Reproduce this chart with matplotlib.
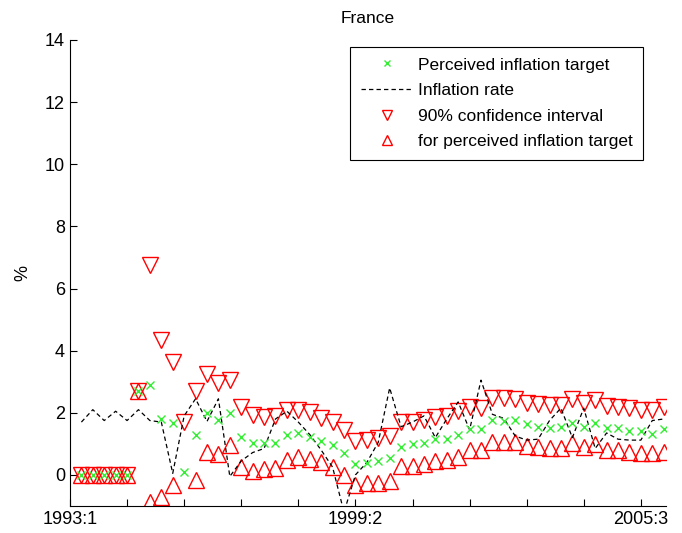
import numpy as np
import matplotlib
matplotlib.use("Agg")
import matplotlib.pyplot as plt

plt.rcParams['font.family'] = ['Liberation Sans', 'DejaVu Sans']

# quarterly index, 0 = 1993:1 ; data start in 1993:2
quarter = np.arange(1, 53)

target = [0, 0, 0, 0, 0, 2.7, 2.9, 1.8, 1.67, 0.08,
          1.3, 2.0, 1.77, 2.0, 1.22, 1.03, 1.03, 1.03, 1.29, 1.35,
          1.22, 1.1, 0.96, 0.7, 0.35, 0.39, 0.46, 0.55, 0.9, 1.0,
          1.03, 1.16, 1.16, 1.29, 1.48, 1.48, 1.77, 1.74, 1.77, 1.64,
          1.54, 1.51, 1.54, 1.67, 1.54, 1.67, 1.51, 1.51, 1.41, 1.41,
          1.32, 1.48]

upper = [0, 0, 0, 0, 0, 2.7, 6.75, 4.35, 3.62, 1.7,
         2.7, 3.26, 2.96, 3.07, 2.2, 1.93, 1.87, 1.9, 2.09, 2.09,
         2.03, 1.83, 1.7, 1.45, 1.1, 1.13, 1.2, 1.25, 1.7, 1.7,
         1.77, 1.87, 1.9, 2.05, 2.19, 2.15, 2.48, 2.48, 2.44, 2.32,
         2.28, 2.25, 2.25, 2.44, 2.32, 2.41, 2.22, 2.19, 2.15, 2.09,
         2.09, 2.19]

lower = [0, 0, 0, 0, 0, 2.7, -0.87, -0.71, -0.32, -1.6,
         -0.16, 0.74, 0.66, 0.96, 0.26, 0.11, 0.19, 0.22, 0.48, 0.58,
         0.51, 0.42, 0.26, 0.0, -0.32, -0.27, -0.26, -0.19, 0.29, 0.29,
         0.35, 0.45, 0.47, 0.58, 0.8, 0.8, 1.06, 1.06, 1.06, 0.93,
         0.9, 0.87, 0.87, 1.03, 0.9, 1.0, 0.8, 0.8, 0.74, 0.71,
         0.71, 0.74]

inflation = [1.7, 2.1, 1.75, 2.05, 1.75, 2.1, 1.75, 1.7, 0.05, 1.9,
             2.45, 1.72, 2.45, -0.05, 0.45, 0.72, 0.85, 1.8, 2.05, 1.7,
             1.3, 0.8, 0.25, -1.2, 0.0, 0.4, 1.05, 2.8, 1.55, 1.7,
             1.9, 1.2, 1.8, 2.35, 1.45, 3.05, 1.95, 1.82, 1.25, 1.12,
             1.15, 1.75, 2.15, 1.2, 2.15, 0.85, 1.35, 1.15, 1.12, 1.12,
             1.75, 1.8]

tick_pos = np.arange(0, 51, 5)
tick_labels = ['1993:1', '', '', '', '', '1999:2', '', '', '', '', '2005:3']

fig = plt.figure(figsize=(6.82, 5.33), dpi=100)
ax = fig.add_axes([0.1026, 0.0507, 0.8739, 0.8743])

h_up, = ax.plot(quarter, upper, 'v', color='red', mfc='none', ms=11, mew=1)
h_lo, = ax.plot(quarter, lower, '^', color='red', mfc='none', ms=11, mew=1)
h_inf, = ax.plot(quarter, inflation, color='black', lw=0.9, ls=(0, (3.5, 2.5)))
h_tar, = ax.plot(quarter, target, 'x', color='#33ee33', ms=6, mew=1)

ax.set_xlim(0, 52.2)
ax.set_ylim(-1, 14)
ax.set_yticks(range(0, 15, 2))
ax.set_xticks(tick_pos)
ax.set_xticklabels(tick_labels)
ax.tick_params(direction='in', labelsize=13, length=5)
ax.spines['top'].set_visible(False)
ax.spines['right'].set_visible(False)

ax.set_title('France', fontsize=12.5, pad=12)
ax.set_ylabel('%', fontsize=13, labelpad=10)

leg = ax.legend([h_tar, h_inf, h_up, h_lo],
                ['Perceived inflation target', 'Inflation rate',
                 '90% confidence interval', 'for perceived inflation target'],
                loc='upper right', bbox_to_anchor=(0.962, 0.985), borderaxespad=0,
                fontsize=12.5, fancybox=False, framealpha=1, edgecolor='black',
                markerscale=0.65, handlelength=3.0, handletextpad=0.3,
                labelspacing=0.6, borderpad=0.6)
leg.get_frame().set_linewidth(0.8)

plt.savefig('out.png')
